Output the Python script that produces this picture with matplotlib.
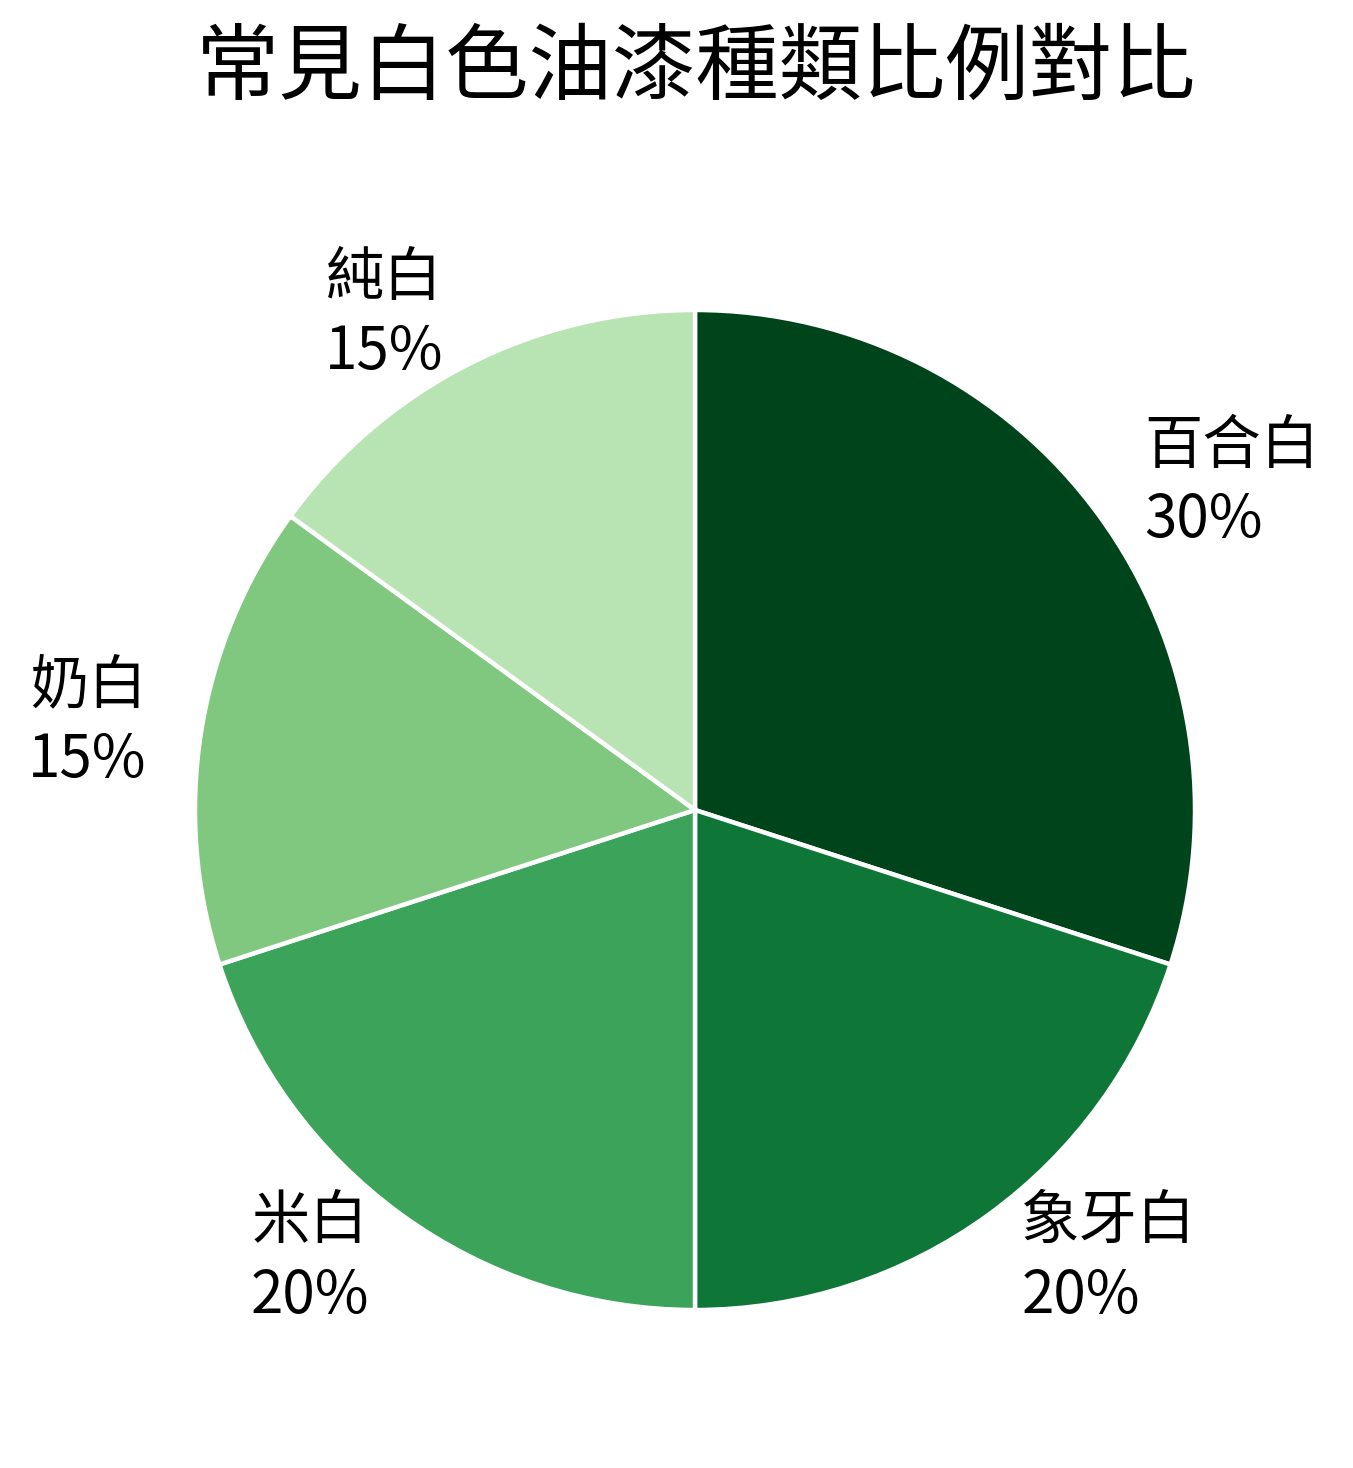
import matplotlib
matplotlib.use("Agg")
import matplotlib.pyplot as plt

plt.rcParams['font.family'] = ['Noto Sans CJK TC', 'DejaVu Sans']

# data
labels = ['百合白', '象牙白', '米白', '奶白', '純白']
shares = [30, 20, 20, 15, 15]
colors = ['#00441b', '#0e7636', '#3ca35a', '#80c87f', '#b8e3b3']
title = '常見白色油漆種類比例對比'

W, H = 1353, 1468
fig = plt.figure(figsize=(W / 100, H / 100), dpi=100)

# pie centre at (695, 810) px, radius 500 px; pie() uses limits of +-1.25
cx, cy, r = 695, 810, 500
side = 2.5 * r
ax = fig.add_axes([(cx - side / 2) / W, (H - cy - side / 2) / H, side / W, side / H])

texts = [f'{n}\n{v}%' for n, v in zip(labels, shares)]
ax.pie(shares, labels=texts, colors=colors, startangle=90, counterclock=False,
       labeldistance=1.11, wedgeprops=dict(edgecolor='white', linewidth=3.2),
       textprops=dict(fontsize=42, linespacing=1.28))
ax.set_aspect('equal')

fig.text(696 / W, 1 - 69 / H, title, ha='center', va='center', fontsize=60)

fig.savefig('out.png', dpi=100)
